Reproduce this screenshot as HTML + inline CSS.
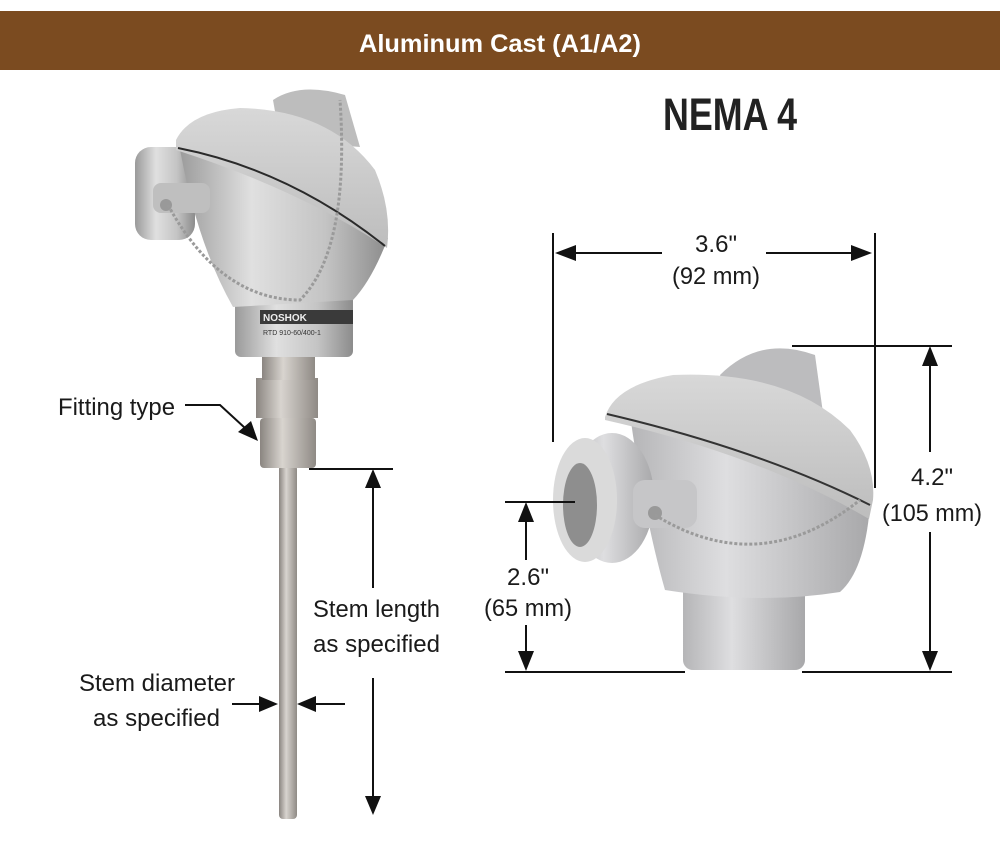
<!DOCTYPE html>
<html><head><meta charset="utf-8"><style>
html,body{margin:0;padding:0;background:#fff;}
svg{display:block;font-family:"Liberation Sans",sans-serif;}
</style></head><body>
<svg width="1000" height="850" viewBox="0 0 1000 850" xmlns="http://www.w3.org/2000/svg">
<defs>
<linearGradient id="m" x1="0" x2="1"><stop offset="0" stop-color="#9a9a9a"/><stop offset=".35" stop-color="#e0e0e0"/><stop offset=".7" stop-color="#c4c4c4"/><stop offset="1" stop-color="#8c8c8c"/></linearGradient>
<linearGradient id="m2" x1="0" x2="1"><stop offset="0" stop-color="#b5b5b7"/><stop offset=".4" stop-color="#dedee0"/><stop offset="1" stop-color="#a8a8aa"/></linearGradient>
<linearGradient id="lid" x1="0" y1="0" x2="0" y2="1"><stop offset="0" stop-color="#d8d8d8"/><stop offset="1" stop-color="#bdbdbd"/></linearGradient>
<linearGradient id="st" x1="0" x2="1"><stop offset="0" stop-color="#8a8580"/><stop offset=".4" stop-color="#d8d4cf"/><stop offset="1" stop-color="#8f8a85"/></linearGradient>
</defs>
<rect x="0" y="11" width="1000" height="59" fill="#7b4b20"/>
<text x="500" y="52" text-anchor="middle" fill="#fff" font-size="25" font-weight="bold" textLength="282" lengthAdjust="spacingAndGlyphs">Aluminum Cast (A1/A2)</text>
<text x="663" y="130" fill="#222" font-size="45" font-weight="bold" textLength="134" lengthAdjust="spacingAndGlyphs">NEMA 4</text>

<!-- left device -->
<rect x="279" y="465" width="18" height="354" rx="4" fill="url(#st)"/>
<rect x="260" y="418" width="56" height="50" rx="4" fill="url(#st)"/>
<rect x="256" y="378" width="62" height="40" fill="url(#st)"/>
<rect x="262" y="352" width="53" height="28" fill="url(#st)"/>
<rect x="235" y="295" width="118" height="62" rx="6" fill="url(#m)"/>
<rect x="260" y="310" width="93" height="14" fill="#3a3a3a"/>
<text x="263" y="321" font-size="10" font-weight="bold" fill="#eee">NOSHOK</text>
<text x="263" y="335" font-size="7" fill="#333">RTD  910-60/400-1</text>
<rect x="135" y="147" width="60" height="93" rx="16" fill="url(#m)"/>
<path d="M178 138 L388 238 Q372 280 353 300 L233 307 Q195 240 178 138 Z" fill="url(#m)"/>
<rect x="153" y="183" width="57" height="30" rx="8" fill="#bfbfbf"/>
<circle cx="166" cy="205" r="6" fill="#999"/>
<path d="M273 100 Q300 82 345 95 L360 147 L280 140 Z" fill="#bdbdbd"/>
<path d="M176 140 Q190 112 240 108 Q330 110 375 170 Q392 210 387 248 Q300 190 176 150 Z" fill="url(#lid)"/>
<path d="M178 148 Q290 170 385 246" stroke="#2a2a2a" stroke-width="2" fill="none"/>
<path d="M168 205 Q220 300 300 300 Q350 250 340 100" stroke="#9a9a9a" stroke-width="3" fill="none" stroke-dasharray="3 2"/>

<!-- right device -->
<rect x="683" y="570" width="122" height="100" rx="10" fill="url(#m2)"/>
<path d="M630 415 L870 505 Q865 570 840 592 Q760 605 665 590 Q645 520 630 415 Z" fill="url(#m2)"/>
<path d="M720 375 Q760 335 815 355 L823 413 L730 405 Z" fill="#bcbcbe"/>
<path d="M605 417 Q615 385 673 375 Q790 370 850 430 Q876 465 873 500 L869 519 Q760 455 605 420 Z" fill="url(#lid)"/>
<path d="M607 414 Q760 450 870 505" stroke="#333" stroke-width="2" fill="none"/>
<ellipse cx="612" cy="498" rx="42" ry="65" fill="url(#m2)"/>
<ellipse cx="585" cy="500" rx="32" ry="62" fill="#dadada"/>
<ellipse cx="580" cy="505" rx="17" ry="42" fill="#8e8e8e"/>
<rect x="633" y="480" width="64" height="48" rx="12" fill="#c6c6c8"/>
<circle cx="655" cy="513" r="7" fill="#999"/>
<path d="M655 515 Q760 580 860 500" stroke="#9a9a9a" stroke-width="3" fill="none" stroke-dasharray="3 2"/>

<g stroke="#111" stroke-width="2" fill="none">
<line x1="309" y1="469" x2="393" y2="469"/>
<line x1="373" y1="485" x2="373" y2="588"/>
<line x1="373" y1="678" x2="373" y2="800"/>
<line x1="232" y1="704" x2="262" y2="704"/>
<line x1="313" y1="704" x2="345" y2="704"/>
<polyline points="185,405 220,405 245,428"/>
<line x1="553" y1="233" x2="553" y2="442"/>
<line x1="875" y1="233" x2="875" y2="488"/>
<line x1="572" y1="253" x2="662" y2="253"/>
<line x1="766" y1="253" x2="856" y2="253"/>
<line x1="792" y1="346" x2="952" y2="346"/>
<line x1="930" y1="362" x2="930" y2="452"/>
<line x1="930" y1="532" x2="930" y2="655"/>
<line x1="505" y1="672" x2="685" y2="672"/>
<line x1="802" y1="672" x2="952" y2="672"/>
<line x1="505" y1="502" x2="575" y2="502"/>
<line x1="526" y1="518" x2="526" y2="560"/>
<line x1="526" y1="625" x2="526" y2="656"/>
</g>
<g fill="#111">
<polygon points="373,469 365,488 381,488"/>
<polygon points="373,815 365,796 381,796"/>
<polygon points="278,704 259,696 259,712"/>
<polygon points="297,704 316,696 316,712"/>
<polygon points="258,441 238,432 251,421"/>
<polygon points="555,253 576,245 576,261"/>
<polygon points="872,253 851,245 851,261"/>
<polygon points="930,346 922,366 938,366"/>
<polygon points="930,671 922,651 938,651"/>
<polygon points="526,502 518,522 534,522"/>
<polygon points="526,671 518,651 534,651"/>
</g>
<g font-size="24" fill="#1a1a1a">
<text x="58" y="415" textLength="117" lengthAdjust="spacingAndGlyphs">Fitting type</text>
<text x="313" y="617" textLength="127" lengthAdjust="spacingAndGlyphs">Stem length</text>
<text x="313" y="652" textLength="127" lengthAdjust="spacingAndGlyphs">as specified</text>
<text x="79" y="691" textLength="156" lengthAdjust="spacingAndGlyphs">Stem diameter</text>
<text x="93" y="726" textLength="127" lengthAdjust="spacingAndGlyphs">as specified</text>
<text x="716" y="252" text-anchor="middle" textLength="42" lengthAdjust="spacingAndGlyphs">3.6"</text>
<text x="716" y="284" text-anchor="middle" textLength="88" lengthAdjust="spacingAndGlyphs">(92 mm)</text>
<text x="932" y="485" text-anchor="middle" textLength="42" lengthAdjust="spacingAndGlyphs">4.2"</text>
<text x="932" y="521" text-anchor="middle" textLength="100" lengthAdjust="spacingAndGlyphs">(105 mm)</text>
<text x="528" y="585" text-anchor="middle" textLength="42" lengthAdjust="spacingAndGlyphs">2.6"</text>
<text x="528" y="616" text-anchor="middle" textLength="88" lengthAdjust="spacingAndGlyphs">(65 mm)</text>
</g>
</svg>
</body></html>
